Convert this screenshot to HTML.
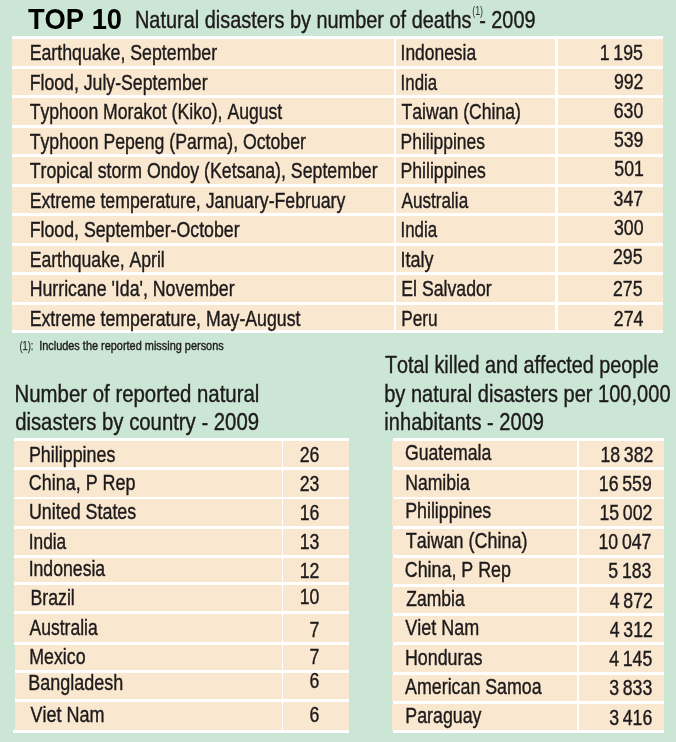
<!DOCTYPE html>
<html lang="en">
<head>
<meta charset="utf-8">
<title>TOP 10 Natural disasters - 2009</title>
<style>
html,body{margin:0;padding:0}
body{width:676px;height:742px;overflow:hidden;background:#cce6d6;position:relative;
 font-family:"Liberation Sans",sans-serif;color:#1d1a1b}
.tbl{position:absolute;background:#fff}
.c{position:absolute;background:#f9e7cf}
.g{position:absolute;background:#cce6d6}
.w{position:absolute;background:#fff}
.t{position:absolute;left:0;top:0;white-space:pre;font-kerning:none;line-height:1;transform-origin:0 0;display:block;-webkit-text-stroke-width:0.4px}
.b{font-weight:700;color:#000;-webkit-text-stroke-width:0}
#txt{position:absolute;left:0;top:0;width:676px;height:742px;will-change:transform}
</style>
</head>
<body>
<div class="tbl" style="left:12.1px;top:36.0px;width:651.00px;height:297.00px">
<div class="c" style="left:0.00px;top:3.10px;width:381.50px;height:26.60px"></div>
<div class="c" style="left:383.95px;top:3.10px;width:159.05px;height:26.60px"></div>
<div class="c" style="left:545.70px;top:3.10px;width:105.30px;height:26.60px"></div>
<div class="c" style="left:0.00px;top:33.10px;width:381.50px;height:26.00px"></div>
<div class="c" style="left:383.95px;top:33.10px;width:159.05px;height:26.00px"></div>
<div class="c" style="left:545.70px;top:33.10px;width:105.30px;height:26.00px"></div>
<div class="c" style="left:0.00px;top:62.20px;width:381.50px;height:26.80px"></div>
<div class="c" style="left:383.95px;top:62.20px;width:159.05px;height:26.80px"></div>
<div class="c" style="left:545.70px;top:62.20px;width:105.30px;height:26.80px"></div>
<div class="c" style="left:0.00px;top:92.10px;width:381.50px;height:25.60px"></div>
<div class="c" style="left:383.95px;top:92.10px;width:159.05px;height:25.60px"></div>
<div class="c" style="left:545.70px;top:92.10px;width:105.30px;height:25.60px"></div>
<div class="c" style="left:0.00px;top:121.00px;width:381.50px;height:26.70px"></div>
<div class="c" style="left:383.95px;top:121.00px;width:159.05px;height:26.70px"></div>
<div class="c" style="left:545.70px;top:121.00px;width:105.30px;height:26.70px"></div>
<div class="c" style="left:0.00px;top:151.10px;width:381.50px;height:25.90px"></div>
<div class="c" style="left:383.95px;top:151.10px;width:159.05px;height:25.90px"></div>
<div class="c" style="left:545.70px;top:151.10px;width:105.30px;height:25.90px"></div>
<div class="c" style="left:0.00px;top:180.30px;width:381.50px;height:26.70px"></div>
<div class="c" style="left:383.95px;top:180.30px;width:159.05px;height:26.70px"></div>
<div class="c" style="left:545.70px;top:180.30px;width:105.30px;height:26.70px"></div>
<div class="c" style="left:0.00px;top:210.00px;width:381.50px;height:26.20px"></div>
<div class="c" style="left:383.95px;top:210.00px;width:159.05px;height:26.20px"></div>
<div class="c" style="left:545.70px;top:210.00px;width:105.30px;height:26.20px"></div>
<div class="c" style="left:0.00px;top:239.20px;width:381.50px;height:26.90px"></div>
<div class="c" style="left:383.95px;top:239.20px;width:159.05px;height:26.90px"></div>
<div class="c" style="left:545.70px;top:239.20px;width:105.30px;height:26.90px"></div>
<div class="c" style="left:0.00px;top:269.30px;width:381.50px;height:24.70px"></div>
<div class="c" style="left:383.95px;top:269.30px;width:159.05px;height:24.70px"></div>
<div class="c" style="left:545.70px;top:269.30px;width:105.30px;height:24.70px"></div>
</div>
<div class="tbl" style="left:13.9px;top:438.2px;width:335.30px;height:294.80px">
<div class="c" style="left:0.00px;top:3.00px;width:268.10px;height:25.70px"></div>
<div class="c" style="left:269.40px;top:3.00px;width:65.90px;height:25.70px"></div>
<div class="c" style="left:0.00px;top:31.75px;width:268.10px;height:26.75px"></div>
<div class="c" style="left:269.40px;top:31.75px;width:65.90px;height:26.75px"></div>
<div class="c" style="left:0.00px;top:61.00px;width:268.10px;height:26.80px"></div>
<div class="c" style="left:269.40px;top:61.00px;width:65.90px;height:26.80px"></div>
<div class="c" style="left:0.00px;top:90.75px;width:268.10px;height:25.95px"></div>
<div class="c" style="left:269.40px;top:90.75px;width:65.90px;height:25.95px"></div>
<div class="c" style="left:0.00px;top:119.80px;width:268.10px;height:24.00px"></div>
<div class="c" style="left:269.40px;top:119.80px;width:65.90px;height:24.00px"></div>
<div class="c" style="left:0.00px;top:146.70px;width:268.10px;height:26.00px"></div>
<div class="c" style="left:269.40px;top:146.70px;width:65.90px;height:26.00px"></div>
<div class="c" style="left:0.00px;top:175.80px;width:268.10px;height:28.10px"></div>
<div class="c" style="left:269.40px;top:175.80px;width:65.90px;height:28.10px"></div>
<div class="c" style="left:0.00px;top:206.80px;width:268.10px;height:25.20px"></div>
<div class="c" style="left:269.40px;top:206.80px;width:65.90px;height:25.20px"></div>
<div class="c" style="left:0.00px;top:234.70px;width:268.10px;height:26.20px"></div>
<div class="c" style="left:269.40px;top:234.70px;width:65.90px;height:26.20px"></div>
<div class="c" style="left:0.00px;top:263.80px;width:268.10px;height:28.10px"></div>
<div class="c" style="left:269.40px;top:263.80px;width:65.90px;height:28.10px"></div>
</div>
<div class="tbl" style="left:393.2px;top:438.2px;width:270.80px;height:294.80px">
<div class="c" style="left:-1.10px;top:3.00px;width:184.80px;height:25.80px"></div>
<div class="c" style="left:186.00px;top:3.00px;width:84.80px;height:25.80px"></div>
<div class="c" style="left:-1.10px;top:31.90px;width:184.80px;height:26.60px"></div>
<div class="c" style="left:186.00px;top:31.90px;width:84.80px;height:26.60px"></div>
<div class="c" style="left:-1.10px;top:61.20px;width:184.80px;height:26.60px"></div>
<div class="c" style="left:186.00px;top:61.20px;width:84.80px;height:26.60px"></div>
<div class="c" style="left:-1.10px;top:90.75px;width:184.80px;height:26.05px"></div>
<div class="c" style="left:186.00px;top:90.75px;width:84.80px;height:26.05px"></div>
<div class="c" style="left:-1.10px;top:119.90px;width:184.80px;height:25.60px"></div>
<div class="c" style="left:186.00px;top:119.90px;width:84.80px;height:25.60px"></div>
<div class="c" style="left:-1.10px;top:148.70px;width:184.80px;height:25.90px"></div>
<div class="c" style="left:186.00px;top:148.70px;width:84.80px;height:25.90px"></div>
<div class="c" style="left:-1.10px;top:177.70px;width:184.80px;height:26.20px"></div>
<div class="c" style="left:186.00px;top:177.70px;width:84.80px;height:26.20px"></div>
<div class="c" style="left:-1.10px;top:206.80px;width:184.80px;height:27.00px"></div>
<div class="c" style="left:186.00px;top:206.80px;width:84.80px;height:27.00px"></div>
<div class="c" style="left:-1.10px;top:236.80px;width:184.80px;height:26.10px"></div>
<div class="c" style="left:186.00px;top:236.80px;width:84.80px;height:26.10px"></div>
<div class="c" style="left:-1.10px;top:265.70px;width:184.80px;height:26.20px"></div>
<div class="c" style="left:186.00px;top:265.70px;width:84.80px;height:26.20px"></div>
</div>
<div class="g" style="left:13.5px;top:645.0px;width:1.6px;height:85.1px"></div>
<div class="w" style="left:13.1px;top:730.1px;width:2px;height:2.9px"></div>
<div id="txt">
<span class="t b" style="font-size:29.1px;transform:translate(27.90px,5.00px) scaleX(0.9387)">TOP 10</span>
<span class="t" style="font-size:24.6px;transform:translate(134.94px,8.00px) scaleX(0.8098)">Natural disasters by number of deaths</span>
<span class="t" style="font-size:12.4px;transform:translate(472.20px,5.00px) scaleX(0.7192);color:#333;-webkit-text-stroke-width:0">(1)</span>
<span class="t" style="font-size:24.6px;transform:translate(479.15px,8.00px) scaleX(0.8078)">- 2009</span>
<span class="t" style="font-size:22.0px;transform:translate(29.65px,42.00px) scaleX(0.8065)">Earthquake, September</span>
<span class="t" style="font-size:22.0px;transform:translate(400.57px,42.00px) scaleX(0.7919)">Indonesia</span>
<span class="t" style="font-size:22.0px;transform:translate(599.74px,42.00px) scaleX(0.8045);word-spacing:-0.068em">1 195</span>
<span class="t" style="font-size:22.0px;transform:translate(29.66px,72.00px) scaleX(0.8036)">Flood, July-September</span>
<span class="t" style="font-size:22.0px;transform:translate(400.62px,72.00px) scaleX(0.7659)">India</span>
<span class="t" style="font-size:22.0px;transform:translate(613.90px,71.00px) scaleX(0.8045);word-spacing:-0.068em">992</span>
<span class="t" style="font-size:22.0px;transform:translate(29.66px,101.00px) scaleX(0.8006)">Typhoon Morakot (Kiko), August</span>
<span class="t" style="font-size:22.0px;transform:translate(401.46px,101.00px) scaleX(0.8007)">Taiwan (China)</span>
<span class="t" style="font-size:22.0px;transform:translate(613.70px,100.00px) scaleX(0.8045);word-spacing:-0.068em">630</span>
<span class="t" style="font-size:22.0px;transform:translate(29.66px,131.00px) scaleX(0.8039)">Typhoon Pepeng (Parma), October</span>
<span class="t" style="font-size:22.0px;transform:translate(400.56px,131.00px) scaleX(0.7939)">Philippines</span>
<span class="t" style="font-size:22.0px;transform:translate(613.90px,129.00px) scaleX(0.8045);word-spacing:-0.068em">539</span>
<span class="t" style="font-size:22.0px;transform:translate(29.66px,160.00px) scaleX(0.8061)">Tropical storm Ondoy (Ketsana), September</span>
<span class="t" style="font-size:22.0px;transform:translate(400.56px,160.00px) scaleX(0.8006)">Philippines</span>
<span class="t" style="font-size:22.0px;transform:translate(614.30px,158.00px) scaleX(0.8045);word-spacing:-0.068em">501</span>
<span class="t" style="font-size:22.0px;transform:translate(29.66px,190.00px) scaleX(0.8043)">Extreme temperature, January-February</span>
<span class="t" style="font-size:22.0px;transform:translate(401.56px,190.00px) scaleX(0.7780)">Australia</span>
<span class="t" style="font-size:22.0px;transform:translate(613.60px,188.00px) scaleX(0.8045);word-spacing:-0.068em">347</span>
<span class="t" style="font-size:22.0px;transform:translate(29.66px,219.00px) scaleX(0.8061)">Flood, September-October</span>
<span class="t" style="font-size:22.0px;transform:translate(400.52px,219.00px) scaleX(0.7659)">India</span>
<span class="t" style="font-size:22.0px;transform:translate(614.00px,217.00px) scaleX(0.8045);word-spacing:-0.068em">300</span>
<span class="t" style="font-size:22.0px;transform:translate(29.66px,249.00px) scaleX(0.8005)">Earthquake, April</span>
<span class="t" style="font-size:22.0px;transform:translate(400.43px,249.00px) scaleX(0.8181)">Italy</span>
<span class="t" style="font-size:22.0px;transform:translate(613.00px,246.00px) scaleX(0.8045);word-spacing:-0.068em">295</span>
<span class="t" style="font-size:22.0px;transform:translate(29.65px,278.00px) scaleX(0.8063)">Hurricane &#x27;Ida&#x27;, November</span>
<span class="t" style="font-size:22.0px;transform:translate(401.26px,278.00px) scaleX(0.8039)">El Salvador</span>
<span class="t" style="font-size:22.0px;transform:translate(613.00px,278.00px) scaleX(0.8045);word-spacing:-0.068em">275</span>
<span class="t" style="font-size:22.0px;transform:translate(29.66px,308.00px) scaleX(0.8053)">Extreme temperature, May-August</span>
<span class="t" style="font-size:22.0px;transform:translate(401.27px,308.00px) scaleX(0.7841)">Peru</span>
<span class="t" style="font-size:22.0px;transform:translate(613.80px,308.00px) scaleX(0.8045);word-spacing:-0.068em">274</span>
<span class="t" style="font-size:13.0px;transform:translate(19.49px,339.00px) scaleX(0.7158);color:#333;-webkit-text-stroke-width:0.25px">(1):</span>
<span class="t" style="font-size:13.2px;transform:translate(39.14px,339.00px) scaleX(0.8282)">Includes the reported missing persons</span>
<span class="t" style="font-size:24.6px;transform:translate(14.56px,382.00px) scaleX(0.8290)">Number of reported natural</span>
<span class="t" style="font-size:24.6px;transform:translate(15.14px,410.00px) scaleX(0.8259)">disasters by country - 2009</span>
<span class="t" style="font-size:24.6px;transform:translate(385.01px,353.00px) scaleX(0.8039)">Total killed and affected people</span>
<span class="t" style="font-size:24.6px;transform:translate(384.20px,382.00px) scaleX(0.8149)">by natural disasters per 100,000</span>
<span class="t" style="font-size:24.6px;transform:translate(384.35px,410.00px) scaleX(0.8165)">inhabitants - 2009</span>
<span class="t" style="font-size:22.0px;transform:translate(28.95px,444.00px) scaleX(0.8119)">Philippines</span>
<span class="t" style="font-size:22.0px;transform:translate(299.64px,444.00px) scaleX(0.8045)">26</span>
<span class="t" style="font-size:22.0px;transform:translate(28.85px,472.00px) scaleX(0.8145)">China, P Rep</span>
<span class="t" style="font-size:22.0px;transform:translate(299.64px,473.00px) scaleX(0.8045)">23</span>
<span class="t" style="font-size:22.0px;transform:translate(28.95px,501.00px) scaleX(0.8123)">United States</span>
<span class="t" style="font-size:22.0px;transform:translate(299.64px,502.00px) scaleX(0.8045)">16</span>
<span class="t" style="font-size:22.0px;transform:translate(28.68px,531.00px) scaleX(0.7873)">India</span>
<span class="t" style="font-size:22.0px;transform:translate(299.64px,531.00px) scaleX(0.8045)">13</span>
<span class="t" style="font-size:22.0px;transform:translate(28.66px,558.00px) scaleX(0.8020)">Indonesia</span>
<span class="t" style="font-size:22.0px;transform:translate(299.64px,560.00px) scaleX(0.8045)">12</span>
<span class="t" style="font-size:22.0px;transform:translate(30.46px,587.00px) scaleX(0.8053)">Brazil</span>
<span class="t" style="font-size:22.0px;transform:translate(299.64px,586.00px) scaleX(0.8045)">10</span>
<span class="t" style="font-size:22.0px;transform:translate(29.46px,617.00px) scaleX(0.7970)">Australia</span>
<span class="t" style="font-size:22.0px;transform:translate(309.49px,619.00px) scaleX(0.8045)">7</span>
<span class="t" style="font-size:22.0px;transform:translate(29.20px,646.00px) scaleX(0.8083)">Mexico</span>
<span class="t" style="font-size:22.0px;transform:translate(309.49px,646.00px) scaleX(0.8045)">7</span>
<span class="t" style="font-size:22.0px;transform:translate(28.30px,672.00px) scaleX(0.8162)">Bangladesh</span>
<span class="t" style="font-size:22.0px;transform:translate(309.49px,670.00px) scaleX(0.8045)">6</span>
<span class="t" style="font-size:22.0px;transform:translate(30.56px,704.00px) scaleX(0.8175)">Viet Nam</span>
<span class="t" style="font-size:22.0px;transform:translate(309.49px,704.00px) scaleX(0.8045)">6</span>
<span class="t" style="font-size:22.0px;transform:translate(404.96px,442.00px) scaleX(0.8026)">Guatemala</span>
<span class="t" style="font-size:22.0px;transform:translate(600.40px,444.00px) scaleX(0.8045);word-spacing:-0.068em">18 382</span>
<span class="t" style="font-size:22.0px;transform:translate(405.16px,472.00px) scaleX(0.8008)">Namibia</span>
<span class="t" style="font-size:22.0px;transform:translate(598.80px,473.00px) scaleX(0.8045);word-spacing:-0.068em">16 559</span>
<span class="t" style="font-size:22.0px;transform:translate(405.15px,500.00px) scaleX(0.8091)">Philippines</span>
<span class="t" style="font-size:22.0px;transform:translate(599.40px,502.00px) scaleX(0.8045);word-spacing:-0.068em">15 002</span>
<span class="t" style="font-size:22.0px;transform:translate(405.76px,530.00px) scaleX(0.8156)">Taiwan (China)</span>
<span class="t" style="font-size:22.0px;transform:translate(598.50px,531.00px) scaleX(0.8045);word-spacing:-0.068em">10 047</span>
<span class="t" style="font-size:22.0px;transform:translate(404.75px,559.00px) scaleX(0.8114)">China, P Rep</span>
<span class="t" style="font-size:22.0px;transform:translate(608.34px,560.00px) scaleX(0.8045);word-spacing:-0.068em">5 183</span>
<span class="t" style="font-size:22.0px;transform:translate(406.36px,588.00px) scaleX(0.7951)">Zambia</span>
<span class="t" style="font-size:22.0px;transform:translate(609.74px,590.00px) scaleX(0.8045);word-spacing:-0.068em">4 872</span>
<span class="t" style="font-size:22.0px;transform:translate(405.26px,617.00px) scaleX(0.8175)">Viet Nam</span>
<span class="t" style="font-size:22.0px;transform:translate(609.74px,619.00px) scaleX(0.8045);word-spacing:-0.068em">4 312</span>
<span class="t" style="font-size:22.0px;transform:translate(404.95px,647.00px) scaleX(0.8113)">Honduras</span>
<span class="t" style="font-size:22.0px;transform:translate(609.14px,648.00px) scaleX(0.8045);word-spacing:-0.068em">4 145</span>
<span class="t" style="font-size:22.0px;transform:translate(405.11px,676.00px) scaleX(0.8090)">American Samoa</span>
<span class="t" style="font-size:22.0px;transform:translate(609.14px,677.00px) scaleX(0.8045);word-spacing:-0.068em">3 833</span>
<span class="t" style="font-size:22.0px;transform:translate(405.35px,705.00px) scaleX(0.8084)">Paraguay</span>
<span class="t" style="font-size:22.0px;transform:translate(609.14px,707.00px) scaleX(0.8045);word-spacing:-0.068em">3 416</span>
</div>
</body>
</html>
